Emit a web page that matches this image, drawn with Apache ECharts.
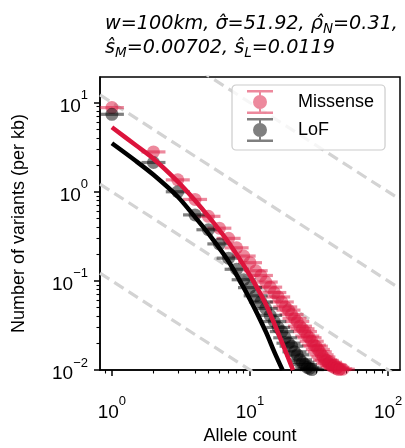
<!DOCTYPE html>
<html>
<head>
<meta charset="utf-8">
<script src="https://cdn.jsdelivr.net/npm/echarts@6/dist/echarts.min.js"></script>
<style>
html, body { margin: 0; padding: 0; background: #fff; }
#chart { width: 405px; height: 448px; }
</style>
</head>
<body>
<div id="chart"></div>
<script>
// allele count -> number of variants per kb
var missenseX = [1, 2, 3, 4, 5, 6, 7, 8, 9, 10, 11, 12, 13, 14, 15, 16, 17, 18, 19, 20,
	21, 22, 23, 24, 25, 26, 27, 28, 29, 30, 31, 32, 33, 34, 35, 36, 37, 38, 39, 40,
	41, 42, 43, 44, 45, 46, 47];
var missenseY = [8.8, 2.8, 1.36, 0.82, 0.53, 0.39, 0.30, 0.235, 0.19, 0.16, 0.13, 0.115, 0.097, 0.085, 0.074, 0.066, 0.058, 0.051, 0.047, 0.042,
	0.038, 0.035, 0.031, 0.029, 0.027, 0.024, 0.023, 0.021, 0.019, 0.0185, 0.017, 0.016, 0.0148, 0.014, 0.013, 0.0128, 0.0118, 0.0122, 0.0112, 0.0108,
	0.0113, 0.0104, 0.0107, 0.0101, 0.0103, 0.0099, 0.0102];
var lofX = [1, 2, 3, 4, 5, 6, 7, 8, 9, 10, 11, 12, 13, 14, 15, 16, 17, 18, 19, 20,
	21, 22, 23, 24, 25, 26, 27, 28, 29];
var lofY = [7.4, 2.13, 1.0, 0.55, 0.375, 0.26, 0.18, 0.135, 0.103, 0.084, 0.068, 0.058, 0.049, 0.041, 0.035, 0.03, 0.027, 0.023, 0.02, 0.0185,
	0.016, 0.0148, 0.013, 0.0122, 0.0115, 0.0107, 0.0104, 0.0101, 0.0098];

// fitted curves
var missenseFitX = [1, 1.5, 2, 3, 4, 5, 7, 10, 13, 16, 20.5];
var missenseFitY = [5.3, 3.3, 2.35, 1.3, 0.8, 0.53, 0.27, 0.115, 0.055, 0.026, 0.01];
var lofFitX = [1, 1.5, 2, 3, 4, 5, 7, 10, 13, 15, 17.2];
var lofFitY = [3.5, 2.2, 1.55, 0.88, 0.52, 0.34, 0.165, 0.062, 0.027, 0.016, 0.01];

// gray dashed guides y = c / x
var guideLevels = [100, 10, 1, 0.1];

var xRange = [0.82, 122];
var yRange = [0.01, 19.4];
var xMajorTicks = [1, 10, 100];
var xMinorTicks = [0.9, 2, 3, 4, 5, 6, 7, 8, 9, 20, 30, 40, 50, 60, 70, 80, 90];
var yMajorTicks = [0.01, 0.1, 1, 10];
var yMinorTicks = [0.02, 0.03, 0.04, 0.05, 0.06, 0.07, 0.08, 0.09,
	0.2, 0.3, 0.4, 0.5, 0.6, 0.7, 0.8, 0.9,
	2, 3, 4, 5, 6, 7, 8, 9];

var RED = '#dc143c';
var FONT = 'Liberation Sans';

function pairs(xs, ys) {
	return xs.map(function (x, i) { return [x, ys[i]]; });
}

// "10" with a raised exponent
function powLabel(v) {
	var e = Math.round(Math.log10(v));
	var s = e < 0 ? '\u2212' + (-e) : String(e);
	return '{b|10}{e|' + s + '}';
}
var powRich = {
	b: { fontSize: 19, fontFamily: FONT, color: '#000', lineHeight: 27, verticalAlign: 'bottom' },
	e: { fontSize: 13, fontFamily: FONT, color: '#000', lineHeight: 13, verticalAlign: 'top' }
};

var series = [];
guideLevels.forEach(function (c) {
	series.push({
		type: 'line', xAxisIndex: 0, yAxisIndex: 0, silent: true, z: 1,
		showSymbol: false, clip: true,
		lineStyle: { color: '#d3d3d3', width: 3.2, type: [11, 6] },
		data: [[xRange[0], c / xRange[0]], [xRange[1], c / xRange[1]]]
	});
});

function errorPoints(name, xs, ys, color, z) {
	// cap bar, then the marker
	series.push({
		name: name + ' err', type: 'scatter', z: z, clip: true, silent: true,
		symbol: 'rect', symbolSize: [24, 3.2],
		itemStyle: { color: color, opacity: 0.5 },
		data: pairs(xs, ys)
	});
	series.push({
		name: name, type: 'scatter', z: z, clip: true, silent: true,
		symbol: 'circle', symbolSize: 13,
		itemStyle: { color: color, opacity: 0.5 },
		data: pairs(xs, ys)
	});
}
errorPoints('Missense', missenseX, missenseY, RED, 2);
errorPoints('LoF', lofX, lofY, '#000', 3);

series.push({
	type: 'line', z: 4, showSymbol: false, smooth: 0.3, clip: true, silent: true,
	lineStyle: { color: RED, width: 4.5 },
	data: pairs(missenseFitX, missenseFitY)
});
series.push({
	type: 'line', z: 5, showSymbol: false, smooth: 0.3, clip: true, silent: true,
	lineStyle: { color: '#000', width: 4.5 },
	data: pairs(lofFitX, lofFitY)
});

// errorbar-like legend icon: caps, stem and dot
var errIcon = 'path://M0,0H26V2.5H0Z M0,21.5H26V24H0Z M12,0H14V24H12Z M6,12A7,7,0,1,1,20,12A7,7,0,1,1,6,12Z';

var option = {
	animation: false,
	backgroundColor: '#fff',
	title: {
		left: 100, top: 7,
		text: '{i|w=100km, \u03c3\u0302=51.92, \u03c1\u0302}{s|N}{i|=0.31,}\n{i|\u015d}{s|M}{i|=0.00702, \u015d}{s|L}{i|=0.0119}',
		textStyle: {
			fontWeight: 'normal',
			rich: {
				i: { fontSize: 19.2, fontStyle: 'italic', fontWeight: 'normal', fontFamily: 'DejaVu Sans', color: '#000', lineHeight: 24 },
				s: { fontSize: 13.5, fontStyle: 'italic', fontWeight: 'normal', fontFamily: 'DejaVu Sans', color: '#000', lineHeight: 14, verticalAlign: 'bottom' }
			}
		}
	},
	legend: {
		left: 232, top: 85, orient: 'vertical',
		padding: [5, 11, 8, 15], itemGap: 4,
		itemWidth: 26, itemHeight: 24,
		backgroundColor: 'rgba(255,255,255,0.8)',
		borderColor: '#cccccc', borderWidth: 1.2, borderRadius: 4,
		textStyle: { fontSize: 18, fontFamily: FONT, color: '#000', padding: [0, 0, 0, 20] },
		data: [
			{ name: 'Missense', icon: errIcon, itemStyle: { color: 'rgba(220,20,60,0.5)', opacity: 1 } },
			{ name: 'LoF', icon: errIcon, itemStyle: { color: 'rgba(0,0,0,0.5)', opacity: 1 } }
		]
	},
	grid: {
		left: 100, top: 77, right: 5, bottom: 78,
		show: true, borderColor: '#000', borderWidth: 1.5,
		outerBoundsMode: 'none'
	},
	xAxis: [{
		type: 'log', logBase: 10, min: xRange[0], max: xRange[1],
		name: 'Allele count', nameLocation: 'middle', nameGap: 53,
		nameTextStyle: { fontSize: 18, fontFamily: FONT, color: '#000' },
		axisLine: { show: true, lineStyle: { color: '#000', width: 1.5 } },
		axisTick: { show: true, customValues: xMajorTicks, length: 6, lineStyle: { color: '#000', width: 1.5 } },
		axisLabel: { customValues: xMajorTicks, margin: 25, formatter: powLabel, rich: powRich },
		splitLine: { show: false }
	}, {
		type: 'log', logBase: 10, min: xRange[0], max: xRange[1], position: 'bottom',
		axisLine: { show: false },
		axisTick: { show: true, customValues: xMinorTicks, length: 3.5, lineStyle: { color: '#000', width: 1.1 } },
		axisLabel: { show: false },
		splitLine: { show: false }
	}],
	yAxis: [{
		type: 'log', logBase: 10, min: yRange[0], max: yRange[1],
		name: 'Number of variants (per kb)', nameLocation: 'middle', nameGap: 72, nameRotate: 90,
		nameTextStyle: { fontSize: 18, fontFamily: FONT, color: '#000' },
		axisLine: { show: true, lineStyle: { color: '#000', width: 1.5 } },
		axisTick: { show: true, customValues: yMajorTicks, length: 6, lineStyle: { color: '#000', width: 1.5 } },
		axisLabel: { customValues: yMajorTicks, margin: 12, formatter: powLabel, rich: powRich },
		splitLine: { show: false }
	}, {
		type: 'log', logBase: 10, min: yRange[0], max: yRange[1], position: 'left',
		axisLine: { show: false },
		axisTick: { show: true, customValues: yMinorTicks, length: 3.5, lineStyle: { color: '#000', width: 1.1 } },
		axisLabel: { show: false },
		splitLine: { show: false }
	}],
	series: series
};

var chart = echarts.init(document.getElementById('chart'), null, { renderer: 'canvas' });
chart.setOption(option);
</script>
</body>
</html>
